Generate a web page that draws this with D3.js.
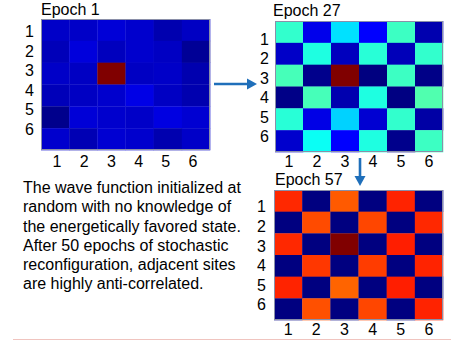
<!DOCTYPE html>
<html>
<head>
<meta charset="utf-8">
<script src="https://cdn.jsdelivr.net/npm/d3@7"></script>
<style>
  html, body { margin: 0; padding: 0; background: #ffffff; }
  svg { display: block; }
  text { font-family: "Liberation Sans", Arial, sans-serif; fill: #000; }
</style>
</head>
<body>
<script>
// ---------- data ----------
const rowLabels = ["1", "2", "3", "4", "5", "6"];
const colLabels = ["1", "2", "3", "4", "5", "6"];
const titles = ["Epoch 1", "Epoch 27", "Epoch 57"];

// cell values on a jet colour scale (0 = dark blue, 1 = dark red), rows top→bottom
const epoch1 = [
  [0.071, 0.071, 0.086, 0.076, 0.046, 0.066],
  [0.056, 0.091, 0.061, 0.076, 0.066, 0.022],
  [0.071, 0.066, 1.000, 0.066, 0.071, 0.046],
  [0.056, 0.066, 0.076, 0.100, 0.066, 0.046],
  [0.012, 0.086, 0.076, 0.071, 0.095, 0.081],
  [0.076, 0.051, 0.081, 0.076, 0.046, 0.071]
];
const epoch27 = [
  [0.424, 0.105, 0.346, 0.125, 0.434, 0.046],
  [0.071, 0.404, 0.061, 0.414, 0.056, 0.424],
  [0.444, 0.012, 1.000, 0.000, 0.434, 0.007],
  [0.007, 0.444, 0.046, 0.404, 0.002, 0.453],
  [0.414, 0.100, 0.331, 0.081, 0.424, 0.036],
  [0.076, 0.385, 0.125, 0.404, 0.012, 0.434]
];
const epoch57 = [
  [0.836, 0.000, 0.787, 0.000, 0.841, 0.000],
  [0.000, 0.801, 0.000, 0.806, 0.000, 0.836],
  [0.836, 0.000, 1.000, 0.000, 0.846, 0.000],
  [0.000, 0.821, 0.000, 0.816, 0.000, 0.841],
  [0.841, 0.000, 0.777, 0.000, 0.846, 0.000],
  [0.000, 0.797, 0.000, 0.806, 0.000, 0.841]
];
const paragraph = [
  "The wave function initialized at",
  "random with no knowledge of",
  "the energetically favored state.",
  "After 50 epochs of stochastic",
  "reconfiguration, adjacent sites",
  "are highly anti-correlated."
];

// ---------- layout ----------
const W = 451, H = 341;
const FS_TEXT = 16, FS_TITLE = 16, FS_TICK = 16;

const panels = [
  { values: epoch1,  title: titles[0], x0: 41,  x1: 210, y0: 19,  y1: 150,
    titleX: 41,  titleY: 15,  ylx: 34,  yl: [31.3, 129.2], xl: [57, 193], xlY: 167 },
  { values: epoch27, title: titles[1], x0: 275, x1: 443, y0: 21,  y1: 152,
    titleX: 273, titleY: 16,  ylx: 269, yl: [39, 136.7],  xl: null,      xlY: 166.5 },
  { values: epoch57, title: titles[2], x0: 274, x1: 443, y0: 190, y1: 320,
    titleX: 275, titleY: 185, ylx: 266, yl: [206.7, 304.3], xl: null,    xlY: 335 }
];

const jet = d3.scaleLinear()
  .domain([0, 0.125, 0.375, 0.625, 0.875, 1])
  .range(["#000080", "#0000ff", "#00ffff", "#ffff00", "#ff0000", "#800000"])
  .clamp(true);

const svg = d3.select("body").append("svg")
  .attr("width", W).attr("height", H);

function addText(g, x, y, str, size, anchor) {
  return g.append("text")
    .attr("x", x).attr("y", y)
    .attr("text-anchor", anchor || "start")
    .attr("font-size", size)
    .text(str);
}

panels.forEach(p => {
  const g = svg.append("g");
  const x = d3.scaleBand().domain(colLabels).range([p.x0, p.x1]).padding(0);
  const y = d3.scaleBand().domain(rowLabels).range([p.y0, p.y1]).padding(0);

  const cells = [];
  p.values.forEach((row, r) => row.forEach((v, c) =>
    cells.push({ row: rowLabels[r], col: colLabels[c], v })));

  g.selectAll("rect.cell").data(cells).enter().append("rect")
    .attr("class", "cell")
    .attr("x", d => x(d.col))
    .attr("y", d => y(d.row))
    .attr("width", x.bandwidth() + 0.3)
    .attr("height", y.bandwidth() + 0.3)
    .attr("fill", d => jet(d.v));

  g.append("rect")
    .attr("x", p.x0 + 0.5).attr("y", p.y0 + 0.5)
    .attr("width", p.x1 - p.x0 - 1).attr("height", p.y1 - p.y0 - 1)
    .attr("fill", "none").attr("stroke", "#8a8fa8").attr("stroke-width", 1);

  // title
  addText(g, p.titleX, p.titleY, p.title, FS_TITLE);

  // row labels (positioned independently of the rows, as in the reference)
  const yl = d3.scalePoint().domain(rowLabels).range(p.yl);
  rowLabels.forEach(l => addText(g, p.ylx, yl(l) + 0.36 * FS_TICK, l, FS_TICK, "end"));

  // column labels
  const xl = p.xl ? d3.scalePoint().domain(colLabels).range(p.xl)
                  : (l => x(l) + x.bandwidth() / 2);
  colLabels.forEach(l => addText(g, xl(l), p.xlY, l, FS_TICK, "middle"));
});

// arrows
const arrowColor = "#1f6fba";
function arrow(x1, y1, x2, y2) {
  const ang = Math.atan2(y2 - y1, x2 - x1);
  const hl = 10, hw = 5.5;
  const bx = x2 - hl * Math.cos(ang), by = y2 - hl * Math.sin(ang);
  svg.append("line")
    .attr("x1", x1).attr("y1", y1).attr("x2", bx).attr("y2", by)
    .attr("stroke", arrowColor).attr("stroke-width", 2.6);
  const px = -Math.sin(ang) * hw, py = Math.cos(ang) * hw;
  svg.append("polygon")
    .attr("points", [[x2, y2], [bx + px, by + py], [bx - px, by - py]].map(d => d.join(",")).join(" "))
    .attr("fill", arrowColor);
}
arrow(214, 84, 257, 84);
arrow(360, 158, 360, 186);

// paragraph
const pg = svg.append("g");
const lineY = d3.scalePoint().domain(d3.range(paragraph.length)).range([193.3, 289]);
paragraph.forEach((s, i) => addText(pg, 23, lineY(i), s, FS_TEXT));

// faint bottom rule
svg.append("line")
  .attr("x1", 13).attr("x2", W).attr("y1", 339.5).attr("y2", 339.5)
  .attr("stroke", "#f0c4bf").attr("stroke-width", 1);
</script>
</body>
</html>
